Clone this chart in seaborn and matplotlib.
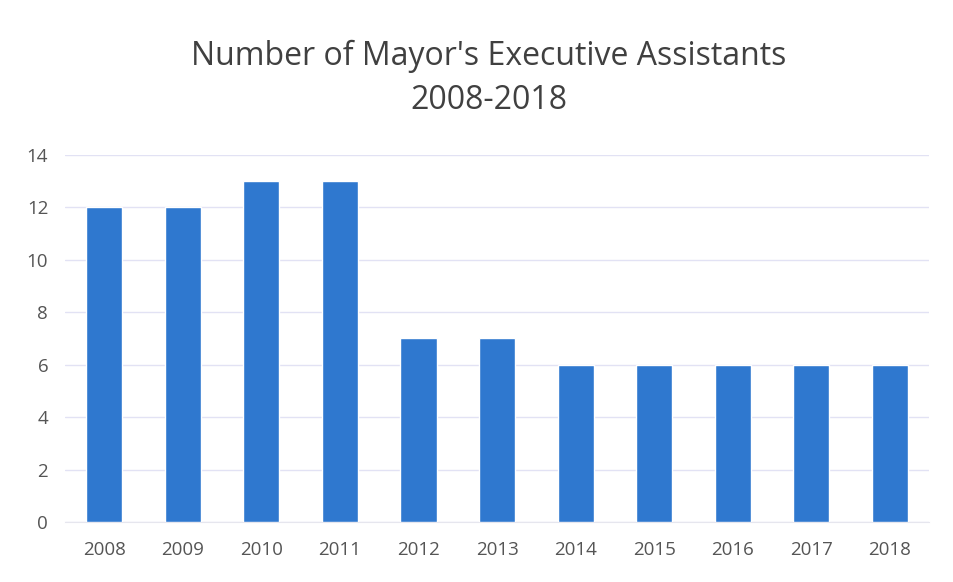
import matplotlib
matplotlib.use("Agg")
import matplotlib.pyplot as plt
import seaborn as sns
import pandas as pd

years = ["2008", "2009", "2010", "2011", "2012", "2013", "2014", "2015", "2016", "2017", "2018"]
assistants = [12, 12, 13, 13, 7, 7, 6, 6, 6, 6, 6]
y_ticks = [0, 2, 4, 6, 8, 10, 12, 14]
title_lines = ["Number of Mayor's Executive Assistants", "2008-2018"]

sns.set_style("white")
plt.rcParams['font.family'] = ['Open Sans', 'DejaVu Sans']

df = pd.DataFrame({"year": years, "count": assistants})

fig = plt.figure(figsize=(9.54, 5.82), dpi=100)
ax = fig.add_axes([0.068, 0.103, 0.906, 0.631])
sns.barplot(data=df, x="year", y="count", color="#2F78CF", saturation=1, width=0.46, ax=ax, zorder=3)

ax.set_ylim(0, 14)
ax.set_yticks(y_ticks)
ax.set_yticklabels([str(t) for t in y_ticks])
ax.grid(axis="y", color="#E2E2F4", linewidth=1, zorder=0)
for s in ["top", "right", "left"]:
    ax.spines[s].set_visible(False)
ax.spines["bottom"].set_color("#E6E6EE")
ax.set_xlabel("")
ax.set_ylabel("")
ax.tick_params(axis="both", length=0, labelsize=13.5, colors="#555555")
ax.tick_params(axis="y", pad=12)
ax.tick_params(axis="x", pad=14)

fig.text(0.512, 0.903, title_lines[0], ha="center", va="center", fontsize=23, color="#404040")
fig.text(0.512, 0.828, title_lines[1], ha="center", va="center", fontsize=23, color="#404040")

fig.savefig("out.png", dpi=100)
